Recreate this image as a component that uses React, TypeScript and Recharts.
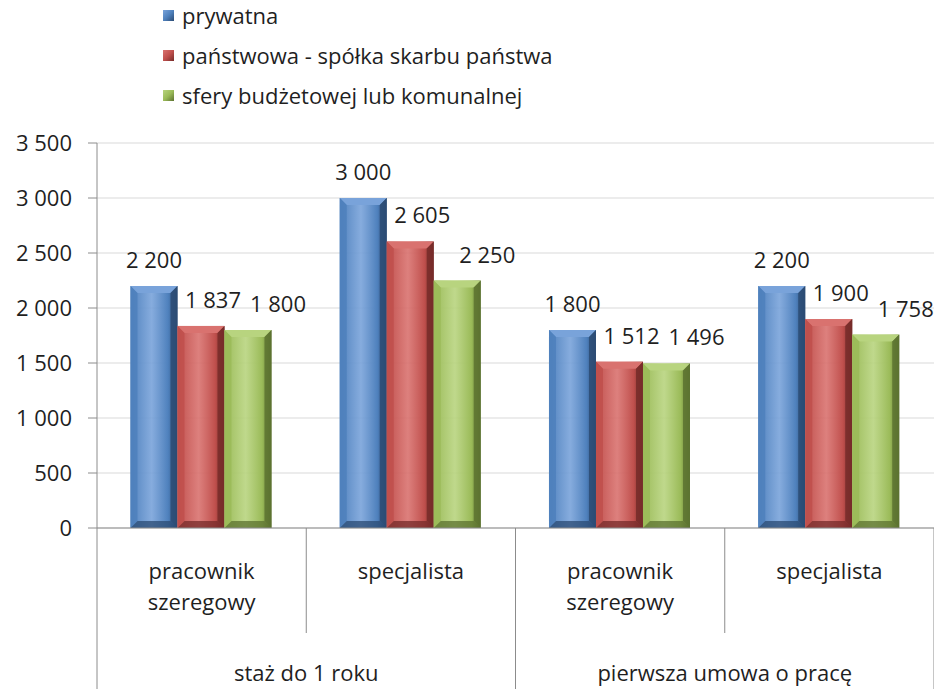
import React from "react";
import { BarChart, Bar, XAxis, YAxis, CartesianGrid, LabelList } from "recharts";

const roles = ["pracownik szeregowy", "specjalista", "pracownik szeregowy", "specjalista"];
const groups = ["staż do 1 roku", "staż do 1 roku", "pierwsza umowa o pracę", "pierwsza umowa o pracę"];
const prywatna = [2200, 3000, 1800, 2200];
const panstwowa = [1837, 2605, 1512, 1900];
const budzetowa = [1800, 2250, 1496, 1758];
const yTicks = [0, 500, 1000, 1500, 2000, 2500, 3000, 3500];

const data = roles.map((role, i) => ({
  role,
  group: groups[i],
  prywatna: prywatna[i],
  panstwowa: panstwowa[i],
  budzetowa: budzetowa[i],
}));

const FONT = "'Open Sans', sans-serif";
const TEXT = "#1f1f1f";
const AXIS = "#8c8c8c";

const series = [
  { key: "prywatna", name: "prywatna", base: "#4F81BD", light: "#79A3DA", dark: "#2B4B73", dx: 0 },
  { key: "panstwowa", name: "państwowa - spółka skarbu państwa", base: "#C0504D", light: "#D9726F", dark: "#762B29", dx: 12 },
  { key: "budzetowa", name: "sfery budżetowej lub komunalnej", base: "#9BBB59", light: "#B8D47F", dark: "#5C7230", dx: 30 },
];

const fmt = (v: number) => String(v).replace(/\B(?=(\d{3})+(?!\d))/g, " ");

const bevelShape = (s: (typeof series)[number]) => (props: any) => {
  const { x, y, width: w, height: h } = props;
  if (!h || h <= 0) return null;
  const b = Math.min(7, w / 4, h / 4);
  return (
    <g>
      <rect x={x} y={y} width={w} height={h} fill={`url(#grad-${s.key})`} />
      <polygon points={`${x},${y} ${x + w},${y} ${x + w - b},${y + b} ${x + b},${y + b}`} fill={s.light} />
      <polygon points={`${x},${y} ${x + b},${y + b} ${x + b},${y + h - b} ${x},${y + h}`} fill={s.base} opacity={0.9} />
      <polygon points={`${x + w},${y} ${x + w - b},${y + b} ${x + w - b},${y + h - b} ${x + w},${y + h}`} fill={s.dark} opacity={0.85} />
      <polygon points={`${x},${y + h} ${x + w},${y + h} ${x + w - b},${y + h - b} ${x + b},${y + h - b}`} fill={s.dark} opacity={0.75} />
    </g>
  );
};

const valueLabel = (dx: number) => (props: any) => {
  const { x, y, width, value } = props;
  return (
    <text x={x + width / 2 + dx} y={y - 18} textAnchor="middle" fontFamily={FONT} fontSize={22} fill={TEXT}>
      {fmt(value)}
    </text>
  );
};

const CategoryTick = (props: any) => {
  const { x, y, payload, index } = props;
  const half = payload.offset || 0;
  const words = String(payload.value).split(" ");
  const first = index % 2 === 0;
  const last = index === data.length - 1;
  return (
    <g>
      <line x1={x - half} y1={y} x2={x - half} y2={first ? y + 161 : y + 105} stroke={AXIS} strokeWidth={1} />
      {last && <line x1={x + half} y1={y} x2={x + half} y2={y + 161} stroke={AXIS} strokeWidth={1} />}
      {words.map((w, i) => (
        <text key={i} x={x} y={y + 51 + i * 31} textAnchor="middle" fontFamily={FONT} fontSize={22} fill={TEXT}>
          {w}
        </text>
      ))}
      {first && (
        <text x={x + half} y={y + 153} textAnchor="middle" fontFamily={FONT} fontSize={22} fill={TEXT}>
          {groups[index]}
        </text>
      )}
    </g>
  );
};

export default function App() {
  return (
    <div style={{ position: "absolute", left: 0, top: 0, width: 934, height: 689, background: "#fff" }}>
      <div style={{ position: "absolute", left: 163, top: 0, fontFamily: FONT, fontSize: 22, color: TEXT, zIndex: 2 }}>
        {series.map((s) => (
          <div key={s.key} style={{ display: "flex", alignItems: "center", height: 40, marginTop: s.key === "prywatna" ? -5 : 0 }}>
            <span
              style={{
                display: "inline-block",
                width: 11,
                height: 11,
                marginRight: 8,
                background: `linear-gradient(135deg, ${s.light}, ${s.base} 50%, ${s.dark})`,
              }}
            />
            <span>{s.name}</span>
          </div>
        ))}
      </div>
      <BarChart
        width={934}
        height={689}
        data={data}
        margin={{ top: 143, right: 0, bottom: 0, left: 0 }}
        barCategoryGap="16%"
        barGap={0}
      >
        <defs>
          {series.map((s) => (
            <linearGradient key={s.key} id={`grad-${s.key}`} x1="0" y1="0" x2="1" y2="0">
              <stop offset="0%" stopColor={s.base} />
              <stop offset="45%" stopColor={s.light} stopOpacity={0.9} />
              <stop offset="80%" stopColor={s.base} />
              <stop offset="100%" stopColor={s.dark} />
            </linearGradient>
          ))}
        </defs>
        <CartesianGrid vertical={false} stroke="#d9d9d9" />
        <YAxis
          width={97}
          domain={[0, 3500]}
          ticks={yTicks}
          interval={0}
          tickFormatter={fmt}
          axisLine={{ stroke: AXIS }}
          tickLine={{ stroke: AXIS }}
          tickSize={9}
          tickMargin={16}
          tick={{ fontFamily: FONT, fontSize: 22, fill: TEXT }}
        />
        <XAxis
          dataKey="role"
          height={161}
          interval={0}
          axisLine={{ stroke: AXIS }}
          tickLine={false}
          tickSize={0}
          tickMargin={0}
          tick={<CategoryTick />}
        />
        {series.map((s) => (
          <Bar key={s.key} dataKey={s.key} name={s.name} fill={s.base} isAnimationActive={false} shape={bevelShape(s)}>
            <LabelList dataKey={s.key} content={valueLabel(s.dx)} />
          </Bar>
        ))}
      </BarChart>
    </div>
  );
}
